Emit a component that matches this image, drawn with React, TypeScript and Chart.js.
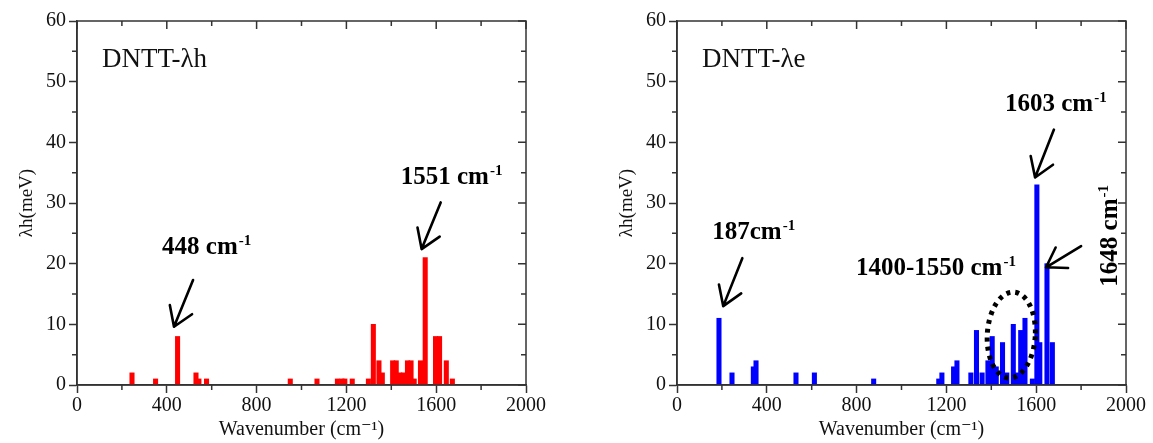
import React, { useEffect, useRef } from "react";
import { Chart, registerables } from "chart.js";

Chart.register(...registerables);

// ---------- data ----------
const xTicks = [0, 400, 800, 1200, 1600, 2000];
const yTicks = [0, 10, 20, 30, 40, 50, 60];

// DNTT-λh (hole) contributions
const holeWavenumbers = [245, 350, 448, 530, 543, 577, 950, 1069, 1160, 1180, 1193, 1226, 1298, 1320, 1345, 1360, 1406, 1422, 1438, 1454, 1472, 1488, 1502, 1530, 1551, 1597, 1615, 1645, 1672];
const holeValues = [2, 1, 8, 2, 1, 1, 1, 1, 1, 1, 1, 1, 1, 10, 4, 2, 4, 4, 2, 2, 4, 4, 1, 4, 21, 8, 8, 4, 1];

// DNTT-λe (electron) contributions
const elecWavenumbers = [187, 245, 340, 352, 530, 612, 876, 1166, 1180, 1232, 1247, 1309, 1334, 1359, 1385, 1404, 1422, 1450, 1469, 1498, 1515, 1531, 1550, 1583, 1603, 1616, 1648, 1672];
const elecValues = [11, 2, 3, 4, 2, 2, 1, 1, 2, 3, 4, 2, 9, 2, 4, 8, 3, 7, 2, 10, 2, 9, 11, 1, 33, 7, 20, 7];

// annotations (data coordinates)
const holeLabels = [
  { text: "448 cm", sup: "-1", x: 379, y: 21.6 },
  { text: "1551 cm", sup: "-1", x: 1442, y: 33.1 },
];
const holeArrows = [
  { from: [517, 17.3], to: [432, 9.6] },
  { from: [1620, 30.1], to: [1535, 22.4] },
];
const elecLabels = [
  { text: "187cm", sup: "-1", x: 157, y: 24.1 },
  { text: "1603 cm", sup: "-1", x: 1461, y: 45.2 },
  { text: "1400-1550 cm", sup: "-1", x: 797, y: 18.1 },
];
const elecArrows = [
  { from: [291, 20.9], to: [206, 13.0] },
  { from: [1679, 42.1], to: [1595, 34.2] },
  { from: [1800, 22.9], to: [1644, 19.4] },
];
const elecRotatedLabel = { text: "1648 cm", sup: "-1", x: 1959, y: 16.2 };
const elecEllipse = { x: 1489, y: 8.24, rx: 24, ry: 43 };

const SERIF = '"Liberation Serif", "Times New Roman", "DejaVu Serif", serif';

function supText(ctx: CanvasRenderingContext2D, main: string, sup: string, x: number, y: number) {
  ctx.font = `bold 25px ${SERIF}`;
  ctx.textBaseline = "alphabetic";
  ctx.textAlign = "left";
  ctx.fillText(main, x, y);
  const w = ctx.measureText(main).width;
  ctx.font = `bold 15px ${SERIF}`;
  ctx.fillText(sup, x + w + 1, y - 9);
}

function arrow(ctx: CanvasRenderingContext2D, x1: number, y1: number, x2: number, y2: number) {
  ctx.save();
  ctx.strokeStyle = "#000";
  ctx.lineWidth = 2.6;
  ctx.lineCap = "round";
  ctx.lineJoin = "round";
  ctx.beginPath();
  ctx.moveTo(x1, y1);
  ctx.lineTo(x2, y2);
  const ang = Math.atan2(y1 - y2, x1 - x2);
  const L = 22;
  const a = (33 * Math.PI) / 180;
  ctx.moveTo(x2 + L * Math.cos(ang - a), y2 + L * Math.sin(ang - a));
  ctx.lineTo(x2, y2);
  ctx.lineTo(x2 + L * Math.cos(ang + a), y2 + L * Math.sin(ang + a));
  ctx.stroke();
  ctx.restore();
}

function makeDecor(cfg: any) {
  return {
    id: "decor",
    afterDraw(chart: any) {
      const ctx: CanvasRenderingContext2D = chart.ctx;
      const { left, right, top, bottom } = chart.chartArea;
      const xs = chart.scales.x;
      const ys = chart.scales.y;
      ctx.save();
      // frame
      ctx.strokeStyle = "#333";
      ctx.lineWidth = 1.5;
      ctx.strokeRect(left, top, right - left, bottom - top);
      // ticks
      ctx.beginPath();
      for (let v = 0; v <= 2000; v += 200) {
        const px = xs.getPixelForValue(v);
        const major = v % 400 === 0;
        if (!major) {
          ctx.moveTo(px, bottom);
          ctx.lineTo(px, bottom + 5);
        }
        ctx.moveTo(px, top);
        ctx.lineTo(px, top + (major ? 8 : 5));
      }
      for (let v = 0; v <= 60; v += 5) {
        const py = ys.getPixelForValue(v);
        const major = v % 10 === 0;
        if (!major) {
          ctx.moveTo(left, py);
          ctx.lineTo(left - 5, py);
        }
        ctx.moveTo(right, py);
        ctx.lineTo(right - (major ? 8 : 5), py);
      }
      ctx.stroke();

      // panel title
      ctx.fillStyle = "#111";
      ctx.font = `27px ${SERIF}`;
      ctx.textBaseline = "alphabetic";
      ctx.textAlign = "left";
      ctx.fillText(cfg.title, xs.getPixelForValue(111), ys.getPixelForValue(52.4));

      ctx.fillStyle = "#000";
      for (const l of cfg.labels) {
        supText(ctx, l.text, l.sup, xs.getPixelForValue(l.x), ys.getPixelForValue(l.y));
      }
      for (const a of cfg.arrows) {
        arrow(
          ctx,
          xs.getPixelForValue(a.from[0]),
          ys.getPixelForValue(a.from[1]),
          xs.getPixelForValue(a.to[0]),
          ys.getPixelForValue(a.to[1])
        );
      }
      if (cfg.rotated) {
        const r = cfg.rotated;
        ctx.save();
        ctx.translate(xs.getPixelForValue(r.x), ys.getPixelForValue(r.y));
        ctx.rotate(-Math.PI / 2);
        supText(ctx, r.text, r.sup, 0, 0);
        ctx.restore();
      }
      if (cfg.ellipse) {
        const e = cfg.ellipse;
        ctx.save();
        ctx.strokeStyle = "#000";
        ctx.lineWidth = 5;
        ctx.setLineDash([4, 5]);
        ctx.beginPath();
        ctx.ellipse(xs.getPixelForValue(e.x), ys.getPixelForValue(e.y), e.rx, e.ry, 0.06, 0, Math.PI * 2);
        ctx.stroke();
        ctx.restore();
      }
      ctx.restore();
    },
  };
}

function buildConfig(xsData: number[], ysData: number[], color: string, padL: number, padR: number, decor: any): any {
  const tickFont = { family: SERIF, size: 20 };
  const grid = {
    display: true,
    drawOnChartArea: false,
    drawTicks: true,
    tickLength: 8,
    tickWidth: 1.5,
    tickColor: "#333",
    offset: false,
  };
  const border = { display: true, color: "#333", width: 1.5 };
  const plain = (v: any) => String(v);
  return {
    type: "bar",
    data: {
      datasets: [
        {
          data: xsData.map((x, i) => ({ x, y: ysData[i] })),
          backgroundColor: color,
          borderWidth: 0,
          barThickness: 4.4,
          grouped: false,
        },
      ],
    },
    options: {
      animation: false,
      responsive: false,
      maintainAspectRatio: false,
      layout: { padding: { left: padL, right: padR, top: 21, bottom: 0 } },
      plugins: { legend: { display: false }, tooltip: { enabled: false } },
      scales: {
        x: {
          type: "linear",
          min: 0,
          max: 2000,
          offset: false,
          afterBuildTicks: (s: any) => {
            s.ticks = xTicks.map((v) => ({ value: v }));
          },
          ticks: { font: tickFont, color: "#111", padding: 1, maxRotation: 0, autoSkip: false, callback: plain },
          grid,
          border,
          title: {
            display: true,
            text: "Wavenumber (cm⁻¹)",
            font: { family: SERIF, size: 20 },
            color: "#111",
            padding: { top: 0, bottom: 1 },
          },
          afterFit: (s: any) => {
            s.height = 58;
          },
        },
        y: {
          type: "linear",
          min: 0,
          max: 60,
          afterBuildTicks: (s: any) => {
            s.ticks = yTicks.map((v) => ({ value: v }));
          },
          ticks: { font: tickFont, color: "#111", padding: 3, callback: plain },
          grid,
          border,
          title: {
            display: true,
            text: "λh(meV)",
            font: { family: SERIF, size: 19 },
            color: "#111",
            padding: { top: 16, bottom: 0 },
          },
          afterFit: (s: any) => {
            s.width = 77;
          },
        },
      },
    },
    plugins: [decor],
  };
}

function Panel(props: { left: number; width: number; config: any }) {
  const ref = useRef<HTMLCanvasElement>(null);
  useEffect(() => {
    const chart = new Chart(ref.current as HTMLCanvasElement, props.config);
    return () => chart.destroy();
  }, []);
  return (
    <canvas
      ref={ref}
      width={props.width}
      height={443}
      style={{ position: "absolute", left: props.left, top: 0, width: props.width, height: 443, display: "block" }}
    />
  );
}

export default function App() {
  const holeConfig = buildConfig(
    holeWavenumbers,
    holeValues,
    "#ff0000",
    0,
    50,
    makeDecor({ title: "DNTT-λh", labels: holeLabels, arrows: holeArrows })
  );
  const elecConfig = buildConfig(
    elecWavenumbers,
    elecValues,
    "#0000ff",
    24,
    27,
    makeDecor({
      title: "DNTT-λe",
      labels: elecLabels,
      arrows: elecArrows,
      rotated: elecRotatedLabel,
      ellipse: elecEllipse,
    })
  );
  return (
    <div style={{ position: "absolute", left: 0, top: 0, width: 1153, height: 443, background: "#fff" }}>
      <Panel left={0} width={576} config={holeConfig} />
      <Panel left={576} width={577} config={elecConfig} />
    </div>
  );
}
